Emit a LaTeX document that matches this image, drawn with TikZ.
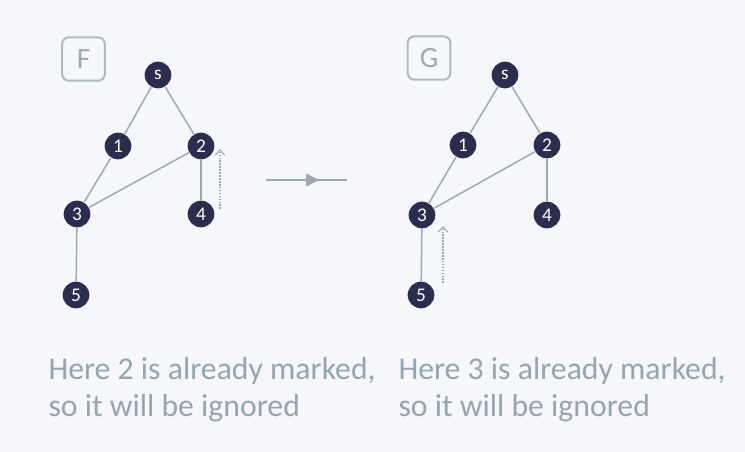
\documentclass[tikz,border=0pt]{standalone}
\usepackage{fontspec}
\setmainfont{Carlito}
\usetikzlibrary{arrows.meta,decorations.markings}
\definecolor{bgcol}{RGB}{245,247,250}
\definecolor{nodecol}{RGB}{42,45,78}
\definecolor{edgecol}{RGB}{155,170,177}
\definecolor{textcol}{RGB}{150,166,174}
\tikzset{every picture/.style={line width=0.75pt}}
\tikzset{
  vtx/.style={circle, fill=nodecol, text=white, minimum size=20pt, inner sep=0pt, font=\fontsize{14.5}{14.5}\selectfont},
  edge/.style={draw=edgecol, line width=1.1pt},
  lbox/.style={draw=edgecol!80, rounded corners=5pt, line width=1.5pt, minimum width=32pt, minimum height=32.5pt, inner sep=0pt, text=edgecol, font=\fontsize{22}{22}\selectfont},
  hint/.style={draw=edgecol, dash pattern=on 1.2pt off 1pt, line width=0.8pt, -{Straight Barb[length=4pt,width=7pt]}},
  note/.style={anchor=north west, inner sep=0pt, align=left, text=textcol, font=\fontsize{23.8}{28}\selectfont}
}

\begin{document}
\begin{tikzpicture}[x=0.75pt,y=0.75pt,yscale=-1,xscale=1]
    %set diagram size to 745 x 452
    \path [fill=bgcol] (0,0) rectangle (745,452);
    
    % Label boxes
    \node [lbox] (labF) at (83.5,59) {F};
    \node [lbox] (labG) at (429,58) {G};
    
    % Graph F
    \node [vtx] (Fs) at (158,75) {s};
    \node [vtx] (F1) at (118,146) {1};
    \node [vtx] (F2) at (201,146) {2};
    \node [vtx] (F3) at (77,214) {3};
    \node [vtx] (F4) at (201,214) {4};
    \node [vtx] (F5) at (76,295) {5};
    \draw [edge] (Fs) -- (F1);
    \draw [edge] (Fs) -- (F2);
    \draw [edge] (F1) -- (F3);
    \draw [edge] (F2) -- (F3);
    \draw [edge] (F2) -- (F4);
    \draw [edge] (F3) -- (F5);
    
    % Graph G
    \node [vtx] (Gs) at (505,75) {s};
    \node [vtx] (G1) at (463,145) {1};
    \node [vtx] (G2) at (547,145) {2};
    \node [vtx] (G3) at (422,215) {3};
    \node [vtx] (G4) at (547,215) {4};
    \node [vtx] (G5) at (421,295) {5};
    \draw [edge] (Gs) -- (G1);
    \draw [edge] (Gs) -- (G2);
    \draw [edge] (G1) -- (G3);
    \draw [edge] (G2) -- (G3);
    \draw [edge] (G2) -- (G4);
    \draw [edge] (G3) -- (G5);
    
    % Dotted hints
    \coordinate (hF0) at (220,209);
    \coordinate (hF1) at (220,149);
    \coordinate (hG0) at (443,283);
    \coordinate (hG1) at (443,226);
    \draw [hint] (hF0) -- (hF1);
    \draw [hint] (hG0) -- (hG1);
    
    % Step arrow
    \coordinate (stepA) at (266,180);
    \coordinate (stepB) at (347,180);
    \draw [edge, postaction={decorate}, decoration={markings, mark=at position 0.57 with {\fill [edgecol] (-6,-6.5) -- (7,0) -- (-6,6.5) -- cycle;}}] (stepA) -- (stepB);
    
    % Text Nodes
    \node [note] (noteF) at (48,357) {Here 2 is already marked,\\so it will be ignored};
    \node [note] (noteG) at (398,357) {Here 3 is already marked,\\so it will be ignored};
    
\end{tikzpicture}
\end{document}
